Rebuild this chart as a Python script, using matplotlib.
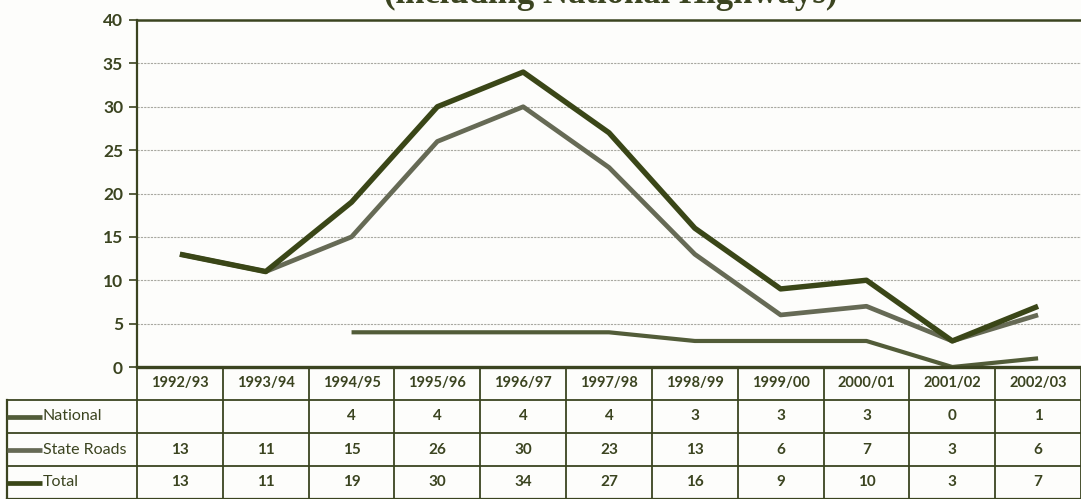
import matplotlib
matplotlib.use('Agg')
import matplotlib.pyplot as plt
import numpy as np

years = ["1992/93", "1993/94", "1994/95", "1995/96", "1996/97", "1997/98",
         "1998/99", "1999/00", "2000/01", "2001/02", "2002/03"]
national = [np.nan, np.nan, 4, 4, 4, 4, 3, 3, 3, 0, 1]
state_roads = [13, 11, 15, 26, 30, 23, 13, 6, 7, 3, 6]
total = [13, 11, 19, 30, 34, 27, 16, 9, 10, 3, 7]
series_names = ["National", "State Roads", "Total"]
y_ticks = [0, 5, 10, 15, 20, 25, 30, 35, 40]

TXT = '#3b4420'
C_NAT = '#525c38'
C_STATE = '#666a55'
C_TOTAL = '#3a4617'
FONT = 'Lato'

W, H = 1081, 499
fig = plt.figure(figsize=(W / 100, H / 100), dpi=100)
fig.patch.set_facecolor('#fdfdfb')

# main plot area in pixel terms
left_px, right_px, top_px, zero_px = 137, 1081, 20, 367
ax = fig.add_axes([left_px / W, 1 - zero_px / H, (right_px - left_px) / W, (zero_px - top_px) / H])
ax.set_facecolor('none')
x = np.arange(len(years))

ax.plot(x, national, color=C_NAT, lw=3.0, solid_capstyle='butt', zorder=3)
ax.plot(x, state_roads, color=C_STATE, lw=3.4, solid_capstyle='butt', zorder=3)
ax.plot(x, total, color=C_TOTAL, lw=3.9, solid_capstyle='butt', zorder=4)

ax.set_xlim(-0.5, len(years) - 0.5)
ax.set_ylim(0, 40)
ax.set_yticks(y_ticks)
ax.set_xticks([])
ax.yaxis.grid(True, color='#a8a8a0', lw=0.8, linestyle=(0, (2, 1)))
ax.set_axisbelow(True)
for s in ['right', 'bottom']:
    ax.spines[s].set_visible(False)
ax.spines['left'].set_color(TXT)
ax.spines['left'].set_linewidth(1.6)
ax.spines['top'].set_color(TXT)
ax.spines['top'].set_linewidth(1.8)
ax.tick_params(axis='y', colors=TXT, length=6, width=1.2, pad=4)
for lab in ax.get_yticklabels():
    lab.set_fontfamily(FONT)
    lab.set_fontweight('bold')
    lab.set_fontsize(12.5)
    lab.set_color(TXT)

# title, cut off at the top of the image as in the source page
fig.text(0.565, 1.012, "(including National Highways)", ha='center', va='center',
         fontsize=25, fontweight='bold', family='Liberation Serif', color=TXT)

# data table under the plot
tab_left_px = 7
px_per_col = (right_px - left_px) / len(years)
tax = fig.add_axes([tab_left_px / W, 0, (W - tab_left_px) / W, (H - zero_px) / H])
tax.set_xlim(-0.5 - (left_px - tab_left_px) / px_per_col, len(years) - 0.5)
tax.set_ylim(4, 0)
tax.axis('off')
x0 = -0.5 - (left_px - tab_left_px) / px_per_col
xe = len(years) - 0.5

# x axis line (top of table)
tax.plot([-0.5, xe], [0, 0], color=TXT, lw=2.4, clip_on=False)
# horizontal rules
for r in [1, 2, 3]:
    tax.plot([x0, xe], [r, r], color=TXT, lw=1.3, clip_on=False)
tax.plot([x0, xe], [4, 4], color=TXT, lw=1.6, clip_on=False)
# vertical rules
for c in range(len(years) + 1):
    tax.plot([c - 0.5, c - 0.5], [0, 4], color=TXT, lw=1.3, clip_on=False)
tax.plot([x0, x0], [1, 4], color=TXT, lw=1.6, clip_on=False)

for i, yr in enumerate(years):
    tax.text(i, 0.5, yr, ha='center', va='center', fontsize=10.5, family=FONT,
             fontweight='bold', color=TXT)

rows = [national, state_roads, total]
colors = [C_NAT, C_STATE, C_TOTAL]
sample_len = 35 / px_per_col
for r, (name, vals, col) in enumerate(zip(series_names, rows, colors)):
    yc = r + 1.5
    tax.plot([x0, x0 + sample_len], [yc, yc], color=col, lw=3.4, solid_capstyle='butt')
    tax.text(x0 + sample_len + 0.01, yc, name, ha='left', va='center', fontsize=11.5,
             family=FONT, color=TXT)
    for i, v in enumerate(vals):
        if not np.isnan(v):
            tax.text(i, yc, f"{int(v)}", ha='center', va='center', fontsize=11,
                     family=FONT, fontweight='bold', color=TXT)

fig.savefig("out.png", dpi=100, facecolor=fig.get_facecolor())
plt.close(fig)
